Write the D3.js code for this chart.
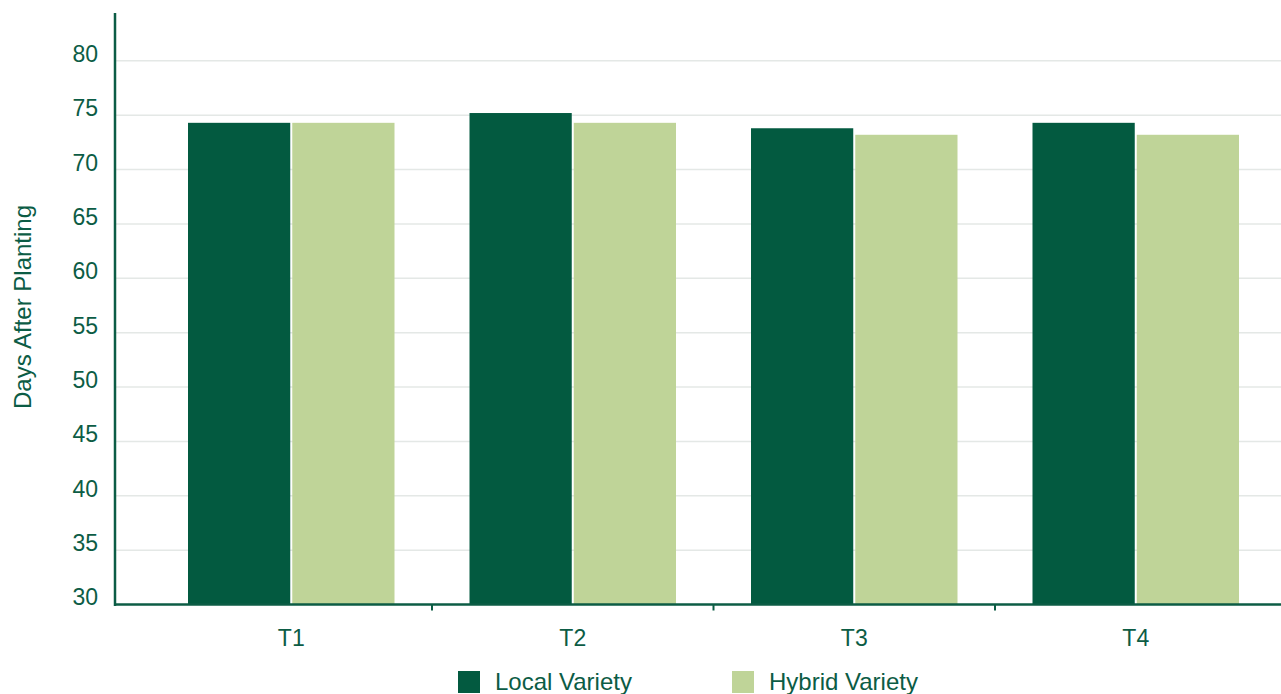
<!DOCTYPE html>
<html>
<head>
<meta charset="utf-8">
<script src="https://cdn.jsdelivr.net/npm/d3@7"></script>
<style>
  html, body { margin: 0; padding: 0; background: #ffffff; }
  svg { display: block; font-family: "Liberation Sans", Arial, Helvetica, sans-serif; }
</style>
</head>
<body>
<svg id="chart" width="1281" height="694"></svg>
<script>
// Days after planting, by treatment and variety
const treatments = ["T1", "T2", "T3", "T4"];
const seriesNames = ["Local Variety", "Hybrid Variety"];
const localVariety = [74.3, 75.2, 73.8, 74.3];
const hybridVariety = [74.3, 74.3, 73.2, 73.2];
const yTicks = [30, 35, 40, 45, 50, 55, 60, 65, 70, 75, 80];
const yTitle = "Days After Planting";

const colors = { "Local Variety": "#035a40", "Hybrid Variety": "#bfd498" };
const ink = "#0c5c45";
const gridColor = "#e4e8e6";

const W = 1281, H = 694;
const plot = { left: 115, right: 1281, top: 13, bottom: 604.5 };

const svg = d3.select("#chart");

const rows = treatments.map((t, i) => ({
  treatment: t,
  values: [
    { series: seriesNames[0], value: localVariety[i] },
    { series: seriesNames[1], value: hybridVariety[i] }
  ]
}));

const y = d3.scaleLinear().domain([30, 84.4]).range([plot.bottom, plot.top]);

const x = d3.scaleBand().domain(treatments).range([150.5, 1276.5]).padding(0);
const groupInset = 37.5;
const xSub = d3.scaleBand()
  .domain(seriesNames)
  .range([groupInset, x.bandwidth() - groupInset])
  .paddingInner(2 / 104)
  .paddingOuter(0);

// horizontal gridlines
svg.append("g")
  .selectAll("line")
  .data(yTicks.filter(v => v > 30))
  .join("line")
  .attr("x1", plot.left)
  .attr("x2", plot.right)
  .attr("y1", d => y(d))
  .attr("y2", d => y(d))
  .attr("stroke", gridColor)
  .attr("stroke-width", 1.5);

// bars
const groups = svg.append("g")
  .selectAll("g")
  .data(rows)
  .join("g")
  .attr("transform", d => `translate(${x(d.treatment)},0)`);

groups.selectAll("rect")
  .data(d => d.values)
  .join("rect")
  .attr("x", d => xSub(d.series))
  .attr("width", xSub.bandwidth())
  .attr("y", d => y(d.value))
  .attr("height", d => y(30) - y(d.value))
  .attr("fill", d => colors[d.series]);

// y axis
const yAxis = d3.axisLeft(y).tickValues(yTicks).tickSize(0).tickPadding(17);
const gy = svg.append("g")
  .attr("transform", `translate(${plot.left},0)`)
  .call(yAxis);
gy.select(".domain").remove();
gy.selectAll("text")
  .attr("fill", ink)
  .attr("font-size", 23)
  .attr("dy", "0.02em")
  .attr("font-family", "Liberation Sans, Arial, sans-serif");

svg.append("line")
  .attr("x1", plot.left).attr("x2", plot.left)
  .attr("y1", plot.top).attr("y2", plot.bottom + 1.5)
  .attr("stroke", ink)
  .attr("stroke-width", 2.5);

// x axis
const xAxis = d3.axisBottom(x).tickSize(0).tickPadding(25);
const gx = svg.append("g")
  .attr("transform", `translate(0,${plot.bottom})`)
  .call(xAxis);
gx.select(".domain").remove();
gx.selectAll("text")
  .attr("fill", ink)
  .attr("font-size", 23)
  .attr("font-family", "Liberation Sans, Arial, sans-serif");

svg.append("line")
  .attr("x1", plot.left).attr("x2", plot.right)
  .attr("y1", plot.bottom).attr("y2", plot.bottom)
  .attr("stroke", ink)
  .attr("stroke-width", 2.5);

// separators between treatment groups
svg.append("g")
  .selectAll("line")
  .data(treatments.slice(1))
  .join("line")
  .attr("x1", d => x(d))
  .attr("x2", d => x(d))
  .attr("y1", plot.bottom)
  .attr("y2", plot.bottom + 6)
  .attr("stroke", ink)
  .attr("stroke-width", 2);

// y axis title
svg.append("text")
  .attr("transform", "translate(22,307) rotate(-90)")
  .attr("text-anchor", "middle")
  .attr("dominant-baseline", "central")
  .attr("fill", ink)
  .attr("font-size", 24)
  .text(yTitle);

// legend
const legendX = [458, 732];
const legend = svg.append("g")
  .selectAll("g")
  .data(seriesNames)
  .join("g")
  .attr("transform", (d, i) => `translate(${legendX[i]},671)`);

legend.append("rect")
  .attr("width", 22)
  .attr("height", 22)
  .attr("fill", d => colors[d]);

legend.append("text")
  .attr("x", 37)
  .attr("y", 19)
  .attr("fill", ink)
  .attr("font-size", 24)
  .text(d => d);
</script>
</body>
</html>
